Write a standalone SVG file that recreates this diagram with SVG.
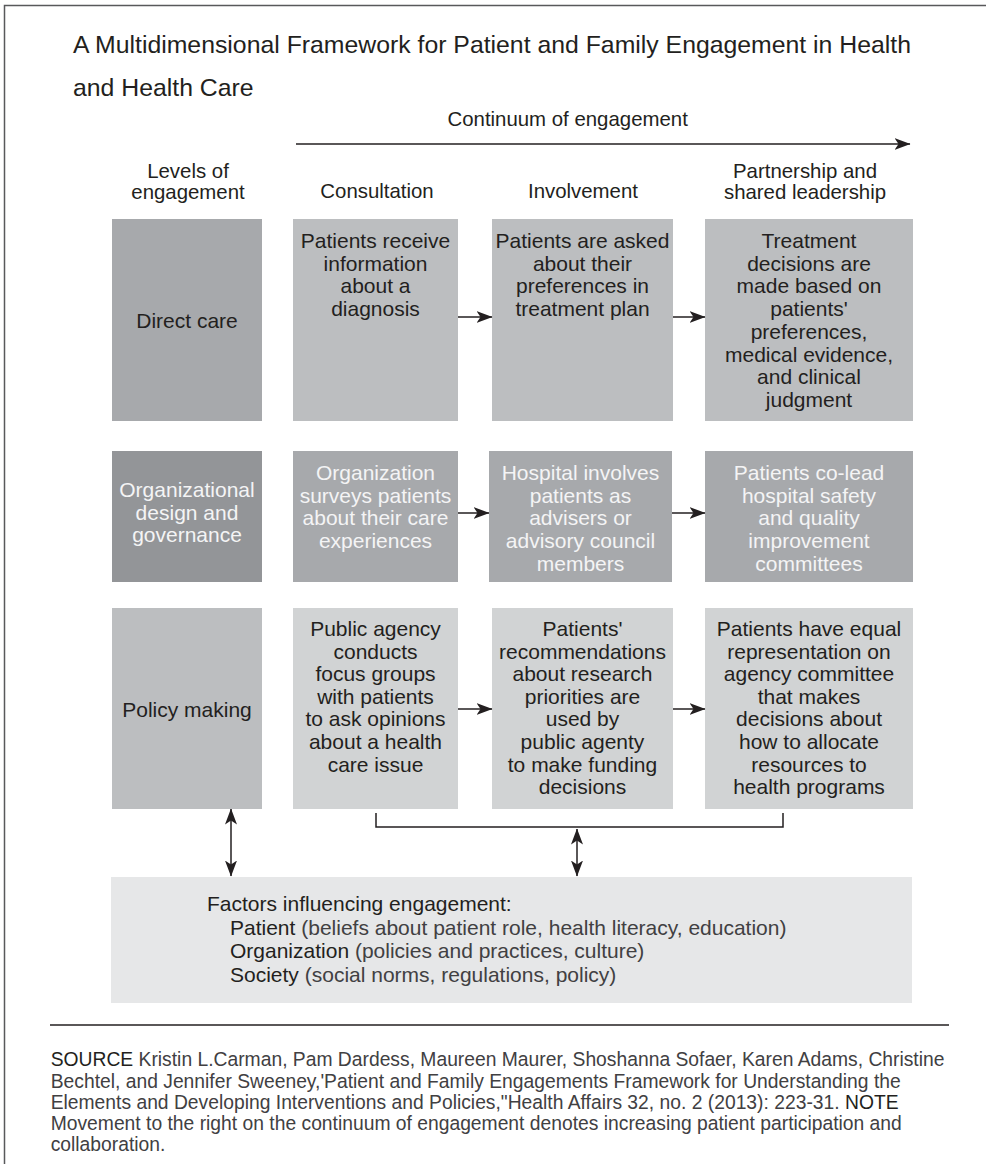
<svg xmlns="http://www.w3.org/2000/svg" width="986" height="1174" viewBox="0 0 986 1174">
<defs>
<style>
text{font-family:"Liberation Sans",Arial,sans-serif;fill:#231f20}
.t{font-size:24.8px}
.h{font-size:20.4px}
.b{font-size:21px;text-anchor:middle}
.w{fill:#f4f4f5}
.f{font-size:21px}
.g{fill:#414042}
.s{font-size:19.3px}
.ln{stroke:#231f20;stroke-width:1.5;fill:none}
</style>
<marker id="ah" markerWidth="16" markerHeight="12" refX="15.5" refY="6" orient="auto-start-reverse" markerUnits="userSpaceOnUse">
<path d="M0,0 L16,6 L0,12 L4,6 z" fill="#231f20"/>
</marker>
</defs>
<rect width="986" height="1174" fill="#ffffff"/>
<path d="M4.5,1164 V5.5 H986" stroke="#58595b" stroke-width="1.5" fill="none"/>

<g id="title">
<text class="t" x="73" y="53">A Multidimensional Framework for Patient and Family Engagement in Health</text>
<text class="t" x="73" y="96">and Health Care</text>
</g>

<g id="headers">
<text class="h" x="447.5" y="126">Continuum of engagement</text>
<text class="h" x="188" y="177.5" text-anchor="middle">Levels of</text>
<text class="h" x="188" y="198.5" text-anchor="middle">engagement</text>
<text class="h" x="377" y="198" text-anchor="middle">Consultation</text>
<text class="h" x="583" y="198" text-anchor="middle">Involvement</text>
<text class="h" x="805" y="177.5" text-anchor="middle">Partnership and</text>
<text class="h" x="805" y="198.5" text-anchor="middle">shared leadership</text>
</g>

<g id="direct-care">
<rect x="112" y="219" width="150" height="202" fill="#a7a9ac"/>
<text class="b" x="187" y="328">Direct care</text>
</g>
<g id="dc-consultation">
<rect x="293" y="219" width="165" height="202" fill="#bcbec0"/>
<text class="b" y="248"><tspan x="375.5">Patients receive</tspan><tspan x="375.5" dy="22.7">information</tspan><tspan x="375.5" dy="22.7">about a</tspan><tspan x="375.5" dy="22.7">diagnosis</tspan></text>
</g>
<g id="dc-involvement">
<rect x="492" y="219" width="181" height="202" fill="#bcbec0"/>
<text class="b" y="248"><tspan x="582.5">Patients are asked</tspan><tspan x="582.5" dy="22.7">about their</tspan><tspan x="582.5" dy="22.7">preferences in</tspan><tspan x="582.5" dy="22.7">treatment plan</tspan></text>
</g>
<g id="dc-partnership">
<rect x="705" y="219" width="208" height="202" fill="#bcbec0"/>
<text class="b" y="248"><tspan x="809">Treatment</tspan><tspan x="809" dy="22.7">decisions are</tspan><tspan x="809" dy="22.7">made based on</tspan><tspan x="809" dy="22.7">patients'</tspan><tspan x="809" dy="22.7">preferences,</tspan><tspan x="809" dy="22.7">medical evidence,</tspan><tspan x="809" dy="22.7">and clinical</tspan><tspan x="809" dy="22.7">judgment</tspan></text>
</g>

<g id="organizational">
<rect x="112" y="451" width="150" height="131" fill="#939598"/>
<text class="b w" y="497"><tspan x="187">Organizational</tspan><tspan x="187" dy="22.7">design and</tspan><tspan x="187" dy="22.7">governance</tspan></text>
</g>
<g id="org-consultation">
<rect x="293" y="451" width="165" height="131" fill="#a7a9ac"/>
<text class="b w" y="480"><tspan x="375.5">Organization</tspan><tspan x="375.5" dy="22.7">surveys patients</tspan><tspan x="375.5" dy="22.7">about their care</tspan><tspan x="375.5" dy="22.7">experiences</tspan></text>
</g>
<g id="org-involvement">
<rect x="489" y="451" width="183" height="131" fill="#a7a9ac"/>
<text class="b w" y="480"><tspan x="580.5">Hospital involves</tspan><tspan x="580.5" dy="22.7">patients as</tspan><tspan x="580.5" dy="22.7">advisers or</tspan><tspan x="580.5" dy="22.7">advisory council</tspan><tspan x="580.5" dy="22.7">members</tspan></text>
</g>
<g id="org-partnership">
<rect x="705" y="451" width="208" height="131" fill="#a7a9ac"/>
<text class="b w" y="480"><tspan x="809">Patients co-lead</tspan><tspan x="809" dy="22.7">hospital safety</tspan><tspan x="809" dy="22.7">and quality</tspan><tspan x="809" dy="22.7">improvement</tspan><tspan x="809" dy="22.7">committees</tspan></text>
</g>

<g id="policy-making">
<rect x="112" y="608" width="150" height="201" fill="#bcbec0"/>
<text class="b" x="187" y="717">Policy making</text>
</g>
<g id="pm-consultation">
<rect x="293" y="608" width="165" height="201" fill="#d1d3d4"/>
<text class="b" y="636"><tspan x="375.5">Public agency</tspan><tspan x="375.5" dy="22.6">conducts</tspan><tspan x="375.5" dy="22.6">focus groups</tspan><tspan x="375.5" dy="22.6">with patients</tspan><tspan x="375.5" dy="22.6">to ask opinions</tspan><tspan x="375.5" dy="22.6">about a health</tspan><tspan x="375.5" dy="22.6">care issue</tspan></text>
</g>
<g id="pm-involvement">
<rect x="492" y="608" width="181" height="201" fill="#d1d3d4"/>
<text class="b" y="636"><tspan x="582.5">Patients'</tspan><tspan x="582.5" dy="22.6">recommendations</tspan><tspan x="582.5" dy="22.6">about research</tspan><tspan x="582.5" dy="22.6">priorities are</tspan><tspan x="582.5" dy="22.6">used by</tspan><tspan x="582.5" dy="22.6">public agenty</tspan><tspan x="582.5" dy="22.6">to make funding</tspan><tspan x="582.5" dy="22.6">decisions</tspan></text>
</g>
<g id="pm-partnership">
<rect x="705" y="608" width="208" height="201" fill="#d1d3d4"/>
<text class="b" y="636"><tspan x="809">Patients have equal</tspan><tspan x="809" dy="22.6">representation on</tspan><tspan x="809" dy="22.6">agency committee</tspan><tspan x="809" dy="22.6">that makes</tspan><tspan x="809" dy="22.6">decisions about</tspan><tspan x="809" dy="22.6">how to allocate</tspan><tspan x="809" dy="22.6">resources to</tspan><tspan x="809" dy="22.6">health programs</tspan></text>
</g>

<g id="factors">
<rect x="111" y="877" width="801" height="126" fill="#e6e7e8"/>
<text class="f" x="207" y="911">Factors influencing engagement:</text>
<text class="f" x="230" y="934.5">Patient <tspan class="g">(beliefs about patient role, health literacy, education)</tspan></text>
<text class="f" x="230" y="958">Organization <tspan class="g">(policies and practices, culture)</tspan></text>
<text class="f" x="230" y="981.5">Society <tspan class="g">(social norms, regulations, policy)</tspan></text>
</g>

<g id="connectors">
<line class="ln" x1="296" y1="144" x2="910" y2="144" marker-end="url(#ah)"/>
<line class="ln" x1="458" y1="317" x2="492" y2="317" marker-end="url(#ah)"/>
<line class="ln" x1="673" y1="317" x2="705" y2="317" marker-end="url(#ah)"/>
<line class="ln" x1="458" y1="513" x2="489" y2="513" marker-end="url(#ah)"/>
<line class="ln" x1="672" y1="513" x2="705" y2="513" marker-end="url(#ah)"/>
<line class="ln" x1="458" y1="709" x2="492" y2="709" marker-end="url(#ah)"/>
<line class="ln" x1="673" y1="709" x2="705" y2="709" marker-end="url(#ah)"/>
<path class="ln" d="M376,813 V827 H783 V813"/>
<line class="ln" x1="231" y1="809" x2="231" y2="876" marker-start="url(#ah)" marker-end="url(#ah)"/>
<line class="ln" x1="577" y1="829" x2="577" y2="876" marker-start="url(#ah)" marker-end="url(#ah)"/>
</g>

<g id="source">
<line x1="50" y1="1025" x2="949" y2="1025" stroke="#231f20" stroke-width="1.5"/>
<text class="s" x="50.7" y="1066">SOURCE <tspan class="g">Kristin L.Carman, Pam Dardess, Maureen Maurer, Shoshanna Sofaer, Karen Adams, Christine</tspan></text>
<text class="s g" x="50.7" y="1088">Bechtel, and Jennifer Sweeney,'Patient and Family Engagements Framework for Understanding the</text>
<text class="s" x="50.7" y="1109"><tspan class="g">Elements and Developing Interventions and Policies,"Health Affairs 32, no. 2 (2013): 223-31. </tspan>NOTE</text>
<text class="s g" x="50.7" y="1130">Movement to the right on the continuum of engagement denotes increasing patient participation and</text>
<text class="s g" x="50.7" y="1151">collaboration.</text>
</g>
</svg>
